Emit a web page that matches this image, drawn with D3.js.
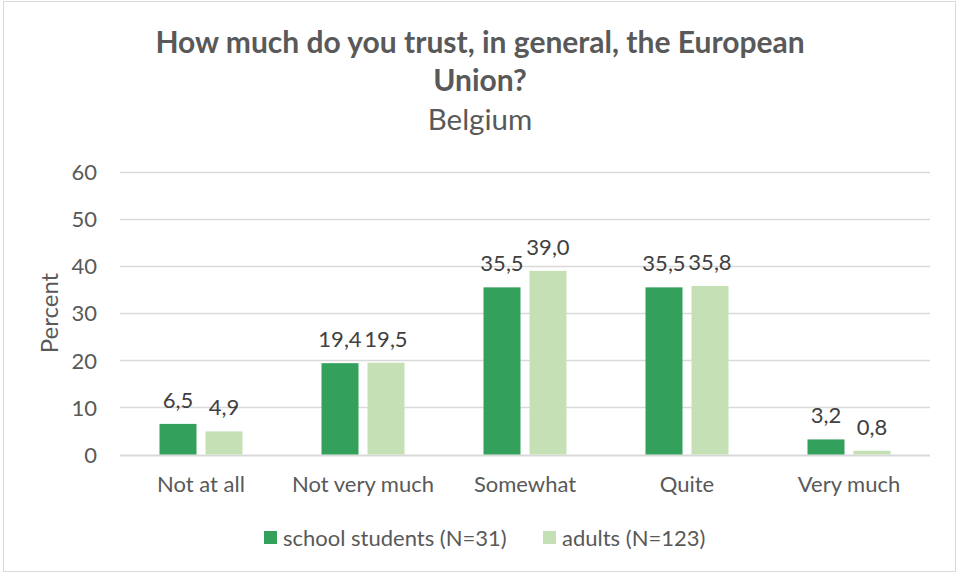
<!DOCTYPE html>
<html><head><meta charset="utf-8">
<script src="https://cdn.jsdelivr.net/npm/d3@7"></script>
<style>body{margin:0;background:#fff;} svg{display:block;font-family:Lato,"Open Sans",sans-serif;}</style>
</head><body>
<script>
const categories = ["Not at all","Not very much","Somewhat","Quite","Very much"];
const seriesNames = ["school students (N=31)","adults (N=123)"];
const students = [6.5,19.4,35.5,35.5,3.2];
const adults = [4.9,19.5,39.0,35.8,0.8];
const yTicks = [0,10,20,30,40,50,60];
const colors = ["#33a05c","#c5e0b4"];
const titleLines = ["How much do you trust, in general, the European","Union?"];
const subtitle = "Belgium";

const W=959,H=575;
const svg=d3.select("body").append("svg").attr("width",W).attr("height",H);
svg.append("rect").attr("x",3.5).attr("y",1.5).attr("width",952).attr("height",570).attr("fill","#fff").attr("stroke","#d9d9d9");

const x=d3.scaleBand().domain(categories).range([120,930]).padding(0);
const xs=d3.scaleBand().domain([0,1]).range([39.5,122.5]).paddingInner(9/46);
const y=d3.scaleLinear().domain([0,60]).range([454.5,172]);

// gridlines
svg.append("g").selectAll("line").data(yTicks).join("line")
 .attr("x1",120).attr("x2",930).attr("y1",d=>Math.round(y(d))+0.5).attr("y2",d=>Math.round(y(d))+0.5)
 .attr("stroke","#d9d9d9").attr("stroke-width",d=>d===0?2:1.3);

// y axis labels
const yAxis=d3.axisLeft(y).tickValues(yTicks).tickSize(0).tickPadding(0);
const ga=svg.append("g").attr("transform","translate(97,0)").call(yAxis);
ga.select(".domain").remove();
ga.selectAll("text").attr("font-size",22).attr("fill","#595959").attr("font-family","Lato").attr("dy","0.35em");

// x axis labels
const xAxis=d3.axisBottom(x).tickSize(0).tickPadding(0);
const gx=svg.append("g").attr("transform","translate(0,492)").call(xAxis);
gx.select(".domain").remove();
gx.selectAll("text").attr("font-size",22).attr("fill","#595959").attr("font-family","Lato").attr("dy",0).attr("y",0);

const data=[students,adults];
data.forEach((vals,si)=>{
  const g=svg.append("g");
  g.selectAll("rect").data(vals).join("rect")
   .attr("x",(d,i)=>x(categories[i])+xs(si)).attr("width",xs.bandwidth())
   .attr("y",d=>y(d)).attr("height",d=>y(0)-y(d)).attr("fill",colors[si]);
  g.selectAll("text").data(vals).join("text")
   .attr("x",(d,i)=>x(categories[i])+xs(si)+xs.bandwidth()/2)
   .attr("y",d=>y(d)-16).attr("text-anchor","middle")
   .attr("font-size",22).attr("fill","#404040")
   .text(d=>d.toFixed(1).replace(".",","));
});

// axis title
svg.append("text").attr("transform","translate(58,313) rotate(-90)").attr("text-anchor","middle")
 .attr("font-size",24).attr("fill","#595959").text("Percent");

// title
svg.append("text").attr("x",480).attr("y",53).attr("text-anchor","middle").attr("font-weight","bold")
 .attr("font-size",30).attr("fill","#595959").text(titleLines[0]);
svg.append("text").attr("x",480).attr("y",91).attr("text-anchor","middle").attr("font-weight","bold")
 .attr("font-size",30).attr("fill","#595959").text(titleLines[1]);
svg.append("text").attr("x",480).attr("y",130).attr("text-anchor","middle")
 .attr("font-size",29.5).attr("fill","#595959").text(subtitle);

// legend
const lg=svg.append("g");
const lx=[264,543];
seriesNames.forEach((s,i)=>{
  lg.append("rect").attr("x",lx[i]).attr("y",531).attr("width",13).attr("height",13).attr("fill",colors[i]);
  lg.append("text").attr("x",lx[i]+19).attr("y",545.5).attr("font-size",22).attr("fill","#595959").text(s);
});
</script>
</body></html>
